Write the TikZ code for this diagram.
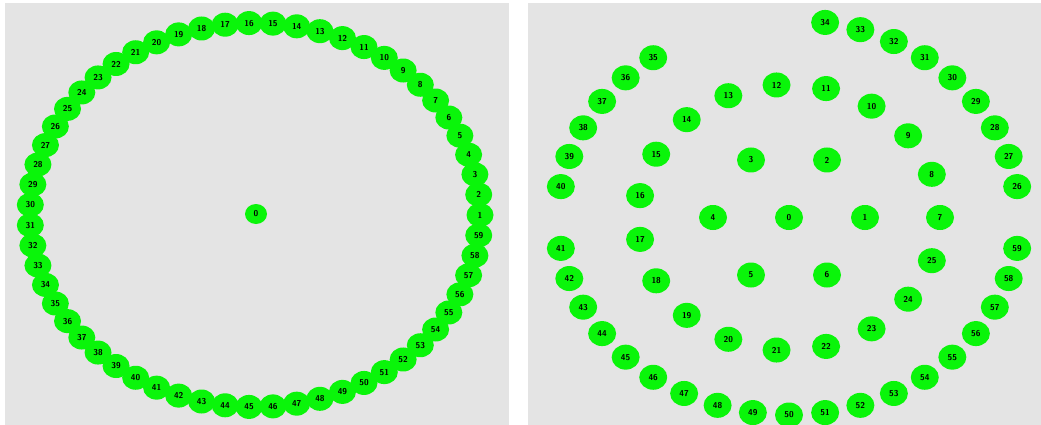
\documentclass[tikz,border=0pt]{standalone}
\usepackage{tikz}
\usetikzlibrary{shapes.geometric}

\definecolor{panelgray}{RGB}{228,228,228}
\definecolor{motegreen}{RGB}{10,245,10}

\tikzset{
  mote/.style={ellipse, fill=motegreen, inner sep=0pt, minimum width=27, minimum height=24,
    font=\sffamily\bfseries\fontsize{8.5}{8.5}\selectfont, text=black},
  bigmote/.style={mote, minimum width=28, minimum height=25},
  panel/.style={fill=panelgray, draw=none}
}

\begin{document}
\begin{tikzpicture}[x=1pt, y=-1pt]

  \useasboundingbox[fill=white] (0, 0) rectangle (1041, 425);
  \fill[panel] (5, 3) rectangle (509, 425);
  \fill[panel] (528, 3) rectangle (1041, 425);

  % left: one ring round the sink
  \node[mote, minimum width=22, minimum height=20] (l0) at (256, 214) {0};
  \foreach \k in {1,...,59}
  {
    \node[mote] (l\k) at ({255+225*cos((\k-1)*6.10169)}, {215-192*sin((\k-1)*6.10169)}) {\k};
  }

  % right: three rings
  \node[bigmote] (r0) at (789, 217.5) {0};
  \foreach \k in {1,...,6}
  {
    \node[bigmote] (r\k) at ({789+76*cos((\k-1)*60)}, {217.5-66.4*sin((\k-1)*60)}) {\k};
  }
  \foreach \k in {7,...,25}
  {
    \node[bigmote] (r\k) at ({789+151*cos((\k-7)*18.9474)}, {217.5-133*sin((\k-7)*18.9474)}) {\k};
  }
  \foreach \k in {26,...,34}
  {
    \node[bigmote] (r\k) at ({789+231*cos((\k-25)*9)}, {217.5-197.5*sin((\k-25)*9)}) {\k};
  }
  \foreach \k in {35,...,40}
  {
    \node[bigmote] (r\k) at ({789+231*cos((\k-21)*9)}, {217.5-197.5*sin((\k-21)*9)}) {\k};
  }
  \foreach \k in {41,...,59}
  {
    \node[bigmote] (r\k) at ({789+231*cos((\k-20)*9)}, {217.5-197.5*sin((\k-20)*9)}) {\k};
  }
\end{tikzpicture}
\end{document}
